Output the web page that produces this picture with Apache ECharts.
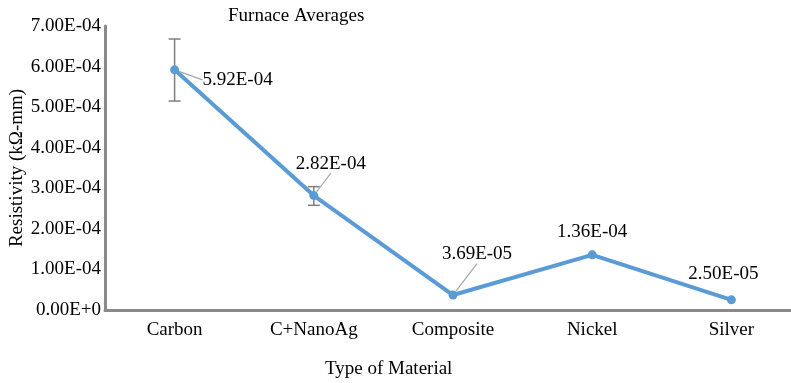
<!DOCTYPE html>
<html>
<head>
<meta charset="utf-8">
<script src="https://cdn.jsdelivr.net/npm/echarts@6/dist/echarts.min.js"></script>
<style>
  html, body { margin: 0; padding: 0; background: #fff; }
  #chart { width: 791px; height: 383px; }
</style>
</head>
<body>
<div id="chart"></div>
<script>
// Furnace averages: resistivity per material type, with error bars
const categories = ['Carbon', 'C+NanoAg', 'Composite', 'Nickel', 'Silver'];
const resistivity = [5.92e-4, 2.82e-4, 3.69e-5, 1.36e-4, 2.50e-5];
const errorMinus = [7.7e-5, 2.4e-5, 0, 0, 0];
const errorPlus = [7.6e-5, 2.2e-5, 0, 0, 0];
const valueLabels = ['5.92E-04', '2.82E-04', '3.69E-05', '1.36E-04', '2.50E-05'];
const yTickLabels = ['0.00E+0', '1.00E-04', '2.00E-04', '3.00E-04', '4.00E-04', '5.00E-04', '6.00E-04', '7.00E-04'];

// label placement relative to each point, in pixels
const labelShift = [[63, 10], [17, -32], [24, -41], [0, -23], [-8, -26]];
const labelGuide = [true, true, true, false, false];

const FONT = 'Liberation Serif';
const FS = 19;
const TICK_STEP = 1e-4;

const chart = echarts.init(document.getElementById('chart'), null, { renderer: 'canvas' });

const textBase = { fontFamily: FONT, fontSize: FS, fontWeight: 'normal', color: '#000' };

chart.setOption({
  animation: false,
  backgroundColor: '#ffffff',
  textStyle: { fontFamily: FONT },
  title: [
    { text: 'Furnace Averages', left: 228, top: 7, padding: 0, textStyle: textBase },
    { text: 'Type of Material', left: 325, top: 360, padding: 0, textStyle: textBase }
  ],
  grid: { left: 105, right: -10, top: 26, bottom: 73, containLabel: false, outerBoundsMode: 'none' },
  xAxis: {
    type: 'category',
    data: categories,
    boundaryGap: true,
    axisLine: { show: true, lineStyle: { color: '#8a8a8a', width: 3 } },
    axisTick: { show: false },
    splitLine: { show: false },
    axisLabel: Object.assign({ margin: 11, interval: 0 }, textBase)
  },
  yAxis: {
    type: 'value',
    min: 0,
    max: 7e-4,
    interval: TICK_STEP,
    name: 'Resistivity (kΩ-mm)',
    nameLocation: 'middle',
    nameGap: 78,
    nameMoveOverlap: false,
    nameTextStyle: textBase,
    axisLine: { show: true, lineStyle: { color: '#8a8a8a', width: 3 } },
    axisTick: { show: false },
    splitLine: { show: false },
    axisLabel: Object.assign({
      margin: 4,
      formatter: function (v) { return yTickLabels[Math.round(v / TICK_STEP)]; }
    }, textBase)
  },
  series: [
    {
      type: 'custom',
      name: 'error',
      z: 1,
      silent: true,
      data: categories.map(function (c, i) { return [i, resistivity[i] - errorMinus[i], resistivity[i] + errorPlus[i]]; }),
      renderItem: function (params, api) {
        const lo = api.value(1), hi = api.value(2);
        if (hi - lo <= 0) return null;
        const pLo = api.coord([api.value(0), lo]);
        const pHi = api.coord([api.value(0), hi]);
        const cap = 6;
        const style = { stroke: '#7f7f7f', lineWidth: 1.5, fill: null };
        return {
          type: 'group',
          children: [
            { type: 'line', shape: { x1: pLo[0], y1: pLo[1], x2: pHi[0], y2: pHi[1] }, style: style },
            { type: 'line', shape: { x1: pLo[0] - cap, y1: pLo[1], x2: pLo[0] + cap, y2: pLo[1] }, style: style },
            { type: 'line', shape: { x1: pHi[0] - cap, y1: pHi[1], x2: pHi[0] + cap, y2: pHi[1] }, style: style }
          ]
        };
      }
    },
    {
      type: 'line',
      name: 'Furnace Averages',
      z: 3,
      data: resistivity.map(function (v, i) {
        return { value: v, labelLine: { show: labelGuide[i] } };
      }),
      symbol: 'circle',
      symbolSize: 9,
      lineStyle: { color: '#5b9bd5', width: 4 },
      itemStyle: { color: '#5b9bd5' },
      label: Object.assign({
        show: true,
        position: 'inside',
        formatter: function (p) { return valueLabels[p.dataIndex]; }
      }, textBase),
      labelLayout: function (p) {
        const s = labelShift[p.dataIndex];
        return { dx: s[0], dy: s[1] };
      },
      labelLine: { show: true, length2: 0, lineStyle: { color: '#a6a6a6', width: 1.2 } }
    }
  ]
});
</script>
</body>
</html>
